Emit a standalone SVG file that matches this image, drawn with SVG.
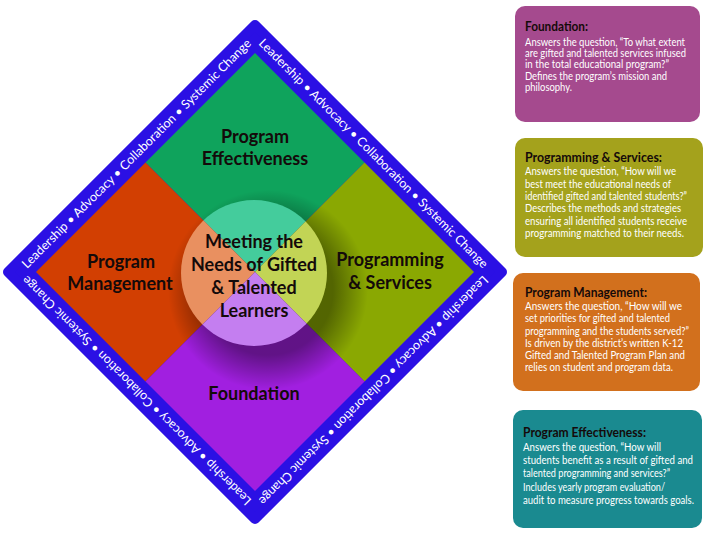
<svg xmlns="http://www.w3.org/2000/svg" width="720" height="540" viewBox="0 0 720 540">
<style>
.lbl{font-family:Lato,"Open Sans","Liberation Sans",sans-serif;font-weight:700;font-size:18px;fill:#140a0a;text-anchor:middle}
.band{font-family:Lato,"Open Sans","Liberation Sans",sans-serif;font-size:12.5px;fill:#ffffff;text-anchor:middle}
.bt{font-family:Lato,"Open Sans","Liberation Sans",sans-serif;font-weight:700;font-size:12.5px;fill:#150a0a}
.bb{font-family:Lato,"Open Sans","Liberation Sans",sans-serif;font-size:10.5px;fill:#ffffff}
</style>
<defs>
<polygon id="qT" points="255,53 364.5,162.5 255,272 145.5,162.5"/>
<polygon id="qL" points="36,272 145.5,162.5 255,272 145.5,381.5"/>
<polygon id="qR" points="474,272 364.5,162.5 255,272 364.5,381.5"/>
<polygon id="qB" points="255,491 145.5,381.5 255,272 364.5,381.5"/>
<clipPath id="cT"><use href="#qT"/></clipPath>
<clipPath id="cL"><use href="#qL"/></clipPath>
<clipPath id="cR"><use href="#qR"/></clipPath>
<clipPath id="cB"><use href="#qB"/></clipPath>
<clipPath id="cIn"><polygon points="255,53 474,272 255,491 36,272"/></clipPath>
<radialGradient id="sh" cx="0.5" cy="0.5" r="0.5">
<stop offset="0.65" stop-color="#000" stop-opacity="0.4"/>
<stop offset="1" stop-color="#000" stop-opacity="0"/>
</radialGradient>
<path id="mid" d="M 24 272 L 255 41 L 486 272 L 255 503 Z"/>
</defs>

<g id="band">
<polygon points="255,25 502,272 255,519 8,272" fill="#2b10e4" stroke="#2b10e4" stroke-width="10" stroke-linejoin="round"/>
<text class="band"><textPath href="#mid" startOffset="163.3" textLength="318" lengthAdjust="spacingAndGlyphs">Leadership • Advocacy • Collaboration • Systemic Change</textPath></text>
<text class="band"><textPath href="#mid" startOffset="490" textLength="318" lengthAdjust="spacingAndGlyphs">Leadership • Advocacy • Collaboration • Systemic Change</textPath></text>
<text class="band"><textPath href="#mid" startOffset="816.7" textLength="318" lengthAdjust="spacingAndGlyphs">Leadership • Advocacy • Collaboration • Systemic Change</textPath></text>
<text class="band"><textPath href="#mid" startOffset="1143.4" textLength="318" lengthAdjust="spacingAndGlyphs">Leadership • Advocacy • Collaboration • Systemic Change</textPath></text>
</g>

<g id="program-effectiveness">
<use href="#qT" fill="#0fa35c"/>
</g>
<g id="program-management">
<use href="#qL" fill="#d23f02"/>
</g>
<g id="programming-services">
<use href="#qR" fill="#8aa802"/>
</g>
<g id="foundation">
<use href="#qB" fill="#a11fe0"/>
</g>
<circle cx="268" cy="290" r="100" fill="url(#sh)" clip-path="url(#cIn)"/>

<g id="center">
<circle cx="254" cy="273" r="73" fill="#44cc9c" clip-path="url(#cT)"/>
<circle cx="254" cy="273" r="73" fill="#e99060" clip-path="url(#cL)"/>
<circle cx="254" cy="273" r="73" fill="#c2d455" clip-path="url(#cR)"/>
<circle cx="254" cy="273" r="73" fill="#c47ef0" clip-path="url(#cB)"/>
<text class="lbl" x="254" y="248">Meeting the</text>
<text class="lbl" x="254" y="271">Needs of Gifted</text>
<text class="lbl" x="254" y="294">&amp; Talented</text>
<text class="lbl" x="254" y="317">Learners</text>
</g>

<g id="labels">
<text class="lbl" x="255" y="143">Program</text>
<text class="lbl" x="255" y="165">Effectiveness</text>
<text class="lbl" x="121" y="268">Program</text>
<text class="lbl" x="120" y="290">Management</text>
<text class="lbl" x="390" y="266">Programming</text>
<text class="lbl" x="390" y="289">&amp; Services</text>
<text class="lbl" x="254" y="400">Foundation</text>
</g>

<g id="box-foundation">
<rect x="515" y="6" width="185" height="116" rx="10" fill="#a54a8e"/>
<text class="bt" x="525" y="31" textLength="63" lengthAdjust="spacingAndGlyphs">Foundation:</text>
<text class="bb" x="525" y="46" textLength="160" lengthAdjust="spacingAndGlyphs">Answers the question, “To what extent</text>
<text class="bb" x="525" y="57" textLength="161" lengthAdjust="spacingAndGlyphs">are gifted and talented services infused</text>
<text class="bb" x="525" y="68" textLength="144" lengthAdjust="spacingAndGlyphs">in the total educational program?”</text>
<text class="bb" x="525" y="80" textLength="142" lengthAdjust="spacingAndGlyphs">Defines the program’s mission and</text>
<text class="bb" x="525" y="91" textLength="47" lengthAdjust="spacingAndGlyphs">philosophy.</text>
</g>

<g id="box-programming">
<rect x="515" y="138" width="188" height="119" rx="10" fill="#a4a21c"/>
<text class="bt" x="525" y="162" textLength="137" lengthAdjust="spacingAndGlyphs">Programming &amp; Services:</text>
<text class="bb" x="525" y="175" textLength="151" lengthAdjust="spacingAndGlyphs">Answers the question, “How will we</text>
<text class="bb" x="525" y="188" textLength="146" lengthAdjust="spacingAndGlyphs">best meet the educational needs of</text>
<text class="bb" x="525" y="200" textLength="162" lengthAdjust="spacingAndGlyphs">identified gifted and talented students?”</text>
<text class="bb" x="525" y="212" textLength="156" lengthAdjust="spacingAndGlyphs">Describes the methods and strategies</text>
<text class="bb" x="525" y="225" textLength="162" lengthAdjust="spacingAndGlyphs">ensuring all identified students receive</text>
<text class="bb" x="525" y="237" textLength="159" lengthAdjust="spacingAndGlyphs">programming matched to their needs.</text>
</g>

<g id="box-management">
<rect x="513" y="273" width="187" height="118" rx="10" fill="#d2701d"/>
<text class="bt" x="525" y="297" textLength="122" lengthAdjust="spacingAndGlyphs">Program Management:</text>
<text class="bb" x="525" y="310" textLength="157" lengthAdjust="spacingAndGlyphs">Answers the question, “How will we</text>
<text class="bb" x="525" y="322" textLength="145" lengthAdjust="spacingAndGlyphs">set priorities for gifted and talented</text>
<text class="bb" x="525" y="335" textLength="164" lengthAdjust="spacingAndGlyphs">programming and the students served?”</text>
<text class="bb" x="525" y="347" textLength="158" lengthAdjust="spacingAndGlyphs">Is driven by the district’s written K-12</text>
<text class="bb" x="525" y="359" textLength="160" lengthAdjust="spacingAndGlyphs">Gifted and Talented Program Plan and</text>
<text class="bb" x="525" y="371" textLength="148" lengthAdjust="spacingAndGlyphs">relies on student and program data.</text>
</g>

<g id="box-effectiveness">
<rect x="513" y="410" width="189" height="118" rx="10" fill="#1a8a90"/>
<text class="bt" x="523" y="437" textLength="123" lengthAdjust="spacingAndGlyphs">Program Effectiveness:</text>
<text class="bb" x="523" y="451" textLength="138" lengthAdjust="spacingAndGlyphs">Answers the question, “How will</text>
<text class="bb" x="523" y="464" textLength="170" lengthAdjust="spacingAndGlyphs">students benefit as a result of gifted and</text>
<text class="bb" x="523" y="477" textLength="147" lengthAdjust="spacingAndGlyphs">talented programming and services?”</text>
<text class="bb" x="523" y="491" textLength="142" lengthAdjust="spacingAndGlyphs">Includes yearly program evaluation/</text>
<text class="bb" x="523" y="504" textLength="171" lengthAdjust="spacingAndGlyphs">audit to measure progress towards goals.</text>
</g>
</svg>
